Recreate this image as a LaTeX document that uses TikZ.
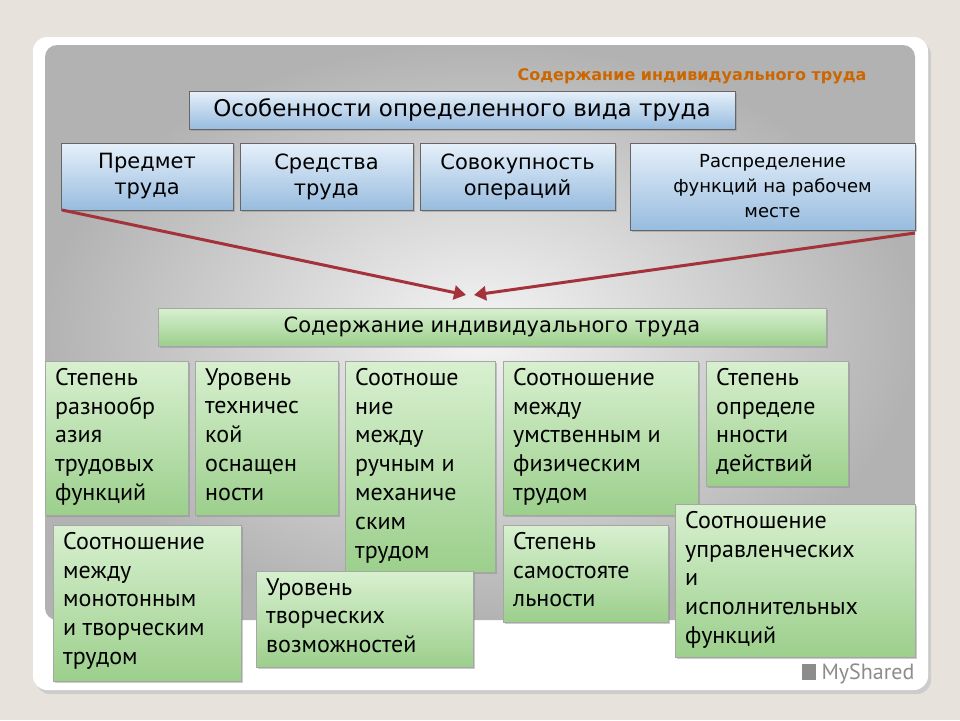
\documentclass[tikz,border=0pt]{standalone}
\usepackage{fontspec}
\setmainfont{DejaVu Sans}
\newfontfamily\gfont{PT Sans}
\usetikzlibrary{shadows,arrows.meta}
\definecolor{bgc}{HTML}{E7E3DC}
\definecolor{gtop}{HTML}{D8F0D0}
\definecolor{gbot}{HTML}{9CCF8C}
\definecolor{btop}{HTML}{E6F0FA}
\definecolor{bbot}{HTML}{98BCDF}
\definecolor{arr}{HTML}{A3323A}
\tikzset{
 x=1pt,y=-1pt,
 bbox/.style={draw=black!60,top color=btop,bottom color=bbot,drop shadow={shadow xshift=2pt,shadow yshift=-2pt,opacity=.4},inner sep=0pt,font=\fontsize{21}{26}\selectfont,align=center},
 gbox/.style={draw=black!35,top color=gtop,bottom color=gbot,drop shadow={shadow xshift=2pt,shadow yshift=-2pt,opacity=.4},inner sep=0pt},
 gtxt/.style={anchor=north west,align=left,font=\gfont\fontsize{24}{28.8}\selectfont,inner sep=0pt},
 rarrow/.style={draw=arr,line width=3pt,-{Stealth[length=12pt,width=14pt,inset=0pt]},shorten >=0pt}
}
\newcommand\gb[6]{\path[gbox] (#1,#2) rectangle (#3,#4); \node[gtxt] (#5) at (#1+10,#2+7) {#6};}
\begin{document}
\begin{tikzpicture}
\useasboundingbox (0,0) rectangle (960,720);
\fill[bgc] (0,0) rectangle (960,720);
\fill[black!20,rounded corners=14] (36,41) rectangle (931,694);
\fill[white,rounded corners=14] (33,37) rectangle (928,690);
\shade[rounded corners=12,inner color=white!92!gray,outer color=black!30] (45,45) rectangle (915,620);
\node[font=\bfseries\fontsize{16}{16}\selectfont,text=orange!80!black] (title) at (692,76) {Содержание индивидуального труда};
\node[bbox,minimum width=546,minimum height=38,font=\fontsize{23}{26}\selectfont] (osob) at (462,110) {Особенности определенного вида труда};
\node[bbox,minimum width=172,minimum height=67] (p1) at (147,176.5) {Предмет\\труда};
\node[bbox,minimum width=173,minimum height=67] (p2) at (326.5,176.5) {Средства\\труда};
\node[bbox,minimum width=195,minimum height=67] (p3) at (517.5,176.5) {Совокупность\\операций};
\node[bbox,minimum width=285,minimum height=87,font=\fontsize{18}{25}\selectfont] (p4) at (772.5,186.5) {Распределение\\функций на рабочем\\месте};
\coordinate (a1) at (62,210);
\coordinate (a2) at (915,233);
\coordinate (t1) at (466,295);
\coordinate (t2) at (474,295);
\draw[rarrow] (a1) -- (t1);
\draw[rarrow] (a2) -- (t2);
\node[gbox,minimum width=668,minimum height=38,font=\fontsize{21}{25}\selectfont] (sod) at (492,327) {Содержание индивидуального труда};
\gb{45}{361}{188}{515}{g1}{Степень\\разнообр\\азия\\трудовых\\функций}
\gb{195}{361}{338}{515}{g2}{Уровень\\техничес\\кой\\оснащен\\ности}
\gb{345}{361}{495}{572}{g3}{Соотноше\\ние\\между\\ручным и\\механиче\\ским\\трудом}
\gb{503}{361}{698}{515}{g4}{Соотношение\\между\\умственным и\\физическим\\трудом}
\gb{706}{361}{848}{486}{g5}{Степень\\определе\\нности\\действий}
\gb{53}{525}{241}{681}{g6}{Соотношение\\между\\монотонным\\и творческим\\трудом}
\gb{503}{525}{668}{622}{g8}{Степень\\самостояте\\льности}
\gb{675}{504}{915}{657}{g9}{Соотношение\\управленческих\\и\\исполнительных\\функций}
\gb{256}{571}{473}{667}{g7}{Уровень\\творческих\\возможностей}
\node[font=\gfont\fontsize{22}{22}\selectfont,text=black!45] (ms) at (858,674) {\rule{14pt}{16pt} MyShared};
\end{tikzpicture}
\end{document}
